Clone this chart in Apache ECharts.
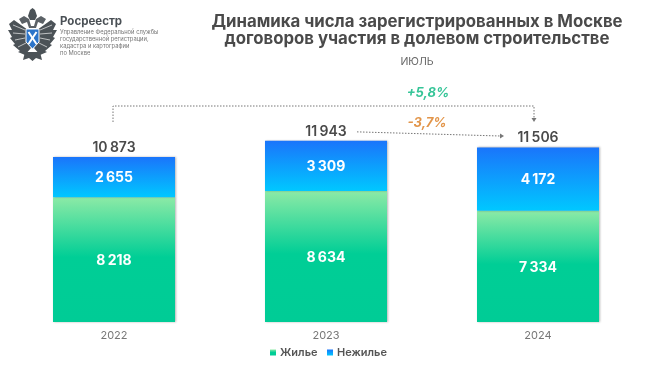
<!DOCTYPE html>
<html><head><meta charset="utf-8">
<style>html,body{margin:0;padding:0;background:#fff}#c{width:650px;height:365px}</style>
<script src="https://cdn.jsdelivr.net/npm/echarts@6/dist/echarts.min.js"></script>
</head><body><div id="c"></div>
<script>
const years = ['2022','2023','2024'];
const housing = [8218,8634,7334];
const nonHousing = [2655,3309,4172];
const totals = [10873,11943,11506];
const fmt = v => String(v).replace(/\B(?=(\d{3})+$)/g,'\u2009');
const FONT = 'Inter';
const chart = echarts.init(document.getElementById('c'),null,{renderer:'canvas'});
const grad = (stops)=>new echarts.graphic.LinearGradient(0,0,0,1,stops);
const barShadow = {shadowColor:'rgba(90,90,90,.45)',shadowBlur:2,shadowOffsetX:1,shadowOffsetY:0};
const innerLabel = {show:true,position:'inside',offset:[0,1],color:'#fff',fontSize:14,fontWeight:700,fontFamily:FONT,formatter:p=>fmt(p.value)};
chart.setOption({
  backgroundColor:'#fff',
  animation:false,
  textStyle:{fontFamily:FONT},
  grid:{left:8,width:636,top:140,height:182},
  legend:{
    bottom:2,left:265,itemWidth:6,itemHeight:6,itemGap:9.5,
    icon:'rect',
    data:[{name:'Жилье'},{name:'Нежилье'}],
    textStyle:{color:'#555',fontSize:11,fontWeight:600,fontFamily:FONT,padding:[0,0,0,-1]}
  },
  xAxis:{type:'category',data:years,axisLine:{show:false},axisTick:{show:false},
    axisLabel:{color:'#777',fontSize:11,margin:8,fontFamily:FONT}},
  yAxis:{type:'value',min:0,max:12000,show:false,splitLine:{show:false}},
  series:[
    {name:'Жилье',type:'bar',stack:'a',barWidth:122,data:housing,
      itemStyle:Object.assign({color:grad([{offset:0,color:'#8CEAA6'},{offset:.48,color:'#00CE96'},{offset:1,color:'#00CC96'}])},barShadow),
      label:innerLabel},
    {name:'Нежилье',type:'bar',stack:'a',data:nonHousing,
      itemStyle:Object.assign({color:grad([{offset:0,color:'#1A75FB'},{offset:1,color:'#00C8FF'}])},barShadow),
      label:innerLabel},
    {name:'Итого',type:'bar',stack:'a',data:totals.map(()=>0),
      itemStyle:{color:'transparent'},
      label:{show:true,position:'top',distance:2.5,color:'#4a4a4a',fontSize:14,fontWeight:600,fontFamily:FONT,
        formatter:p=>fmt(totals[p.dataIndex])}}
  ],
  color:['#17B58C','#2F86E0']
});

const px = (i,v)=>chart.convertToPixel({gridIndex:0},[i,v]);
const line = '#777';
const dash = {stroke:line,lineWidth:1,lineDash:[1.5,1.5]};
const p1 = px(1,totals[1]), p2 = px(2,totals[2]);
const longTop = 106, longEnd = 118, shortY0 = p1[1]-9, shortY1 = p2[1]-11.5;
const shortX0 = 357, shortX1 = 503;

const feather = (x1,y1,x2,y2)=>({type:'line',shape:{x1,y1,x2,y2},style:{stroke:'#fff',lineWidth:.8,opacity:.8}});
const eagle = {type:'group',children:[
  {type:'polygon',shape:{points:[[28,30],[14,20],[9,24],[12,30],[8,30],[12,37],[10,38],[15,44],[13,45],[20,51],[18,52],[25,55],[31,48],[28,40]]},style:{fill:'#4b5257'}},
  {type:'polygon',shape:{points:[[37,30],[51,20],[56,24],[53,30],[57,30],[53,37],[55,38],[50,44],[52,45],[45,51],[47,52],[40,55],[34,48],[37,40]]},style:{fill:'#4b5257'}},
  feather(25,30,13,25),feather(25,34,13,33),feather(25,38,15,40),feather(26,43,18,47),
  feather(40,30,52,25),feather(40,34,52,33),feather(40,38,50,40),feather(39,43,47,47),
  {type:'polygon',shape:{points:[[22,24],[19,19],[24,16],[29,19],[31,26],[34,26],[36,19],[41,16],[46,19],[43,24],[38,22],[36,28],[29,28],[27,22]]},style:{fill:'#5b6166'}},
  {type:'polygon',shape:{points:[[28,16],[30,10],[32.5,8],[35,10],[37,16],[35,20],[30,20]]},style:{fill:'#4b5257'}},
  {type:'polygon',shape:{points:[[25,52],[40,52],[42,60],[36,58],[32.5,61],[29,58],[23,60]]},style:{fill:'#4b5257'}},
  {type:'polygon',shape:{points:[[26,29],[39,29],[39,42],[32.5,49],[26,42]]},style:{fill:'#2C74C9',stroke:'#fff',lineWidth:1}},
  {type:'line',shape:{x1:28.5,y1:32,x2:36.5,y2:44},style:{stroke:'#fff',lineWidth:2}},
  {type:'line',shape:{x1:36.5,y1:32,x2:28.5,y2:44},style:{stroke:'#fff',lineWidth:2}}
]};

const tt = (x,y,text,style)=>({type:'text',x,y,style:Object.assign({text,fontFamily:FONT},style)});
const head = (x,y,dir)=> dir==='down'
  ? {type:'polygon',shape:{points:[[x-2.5,y-4],[x+2.5,y-4],[x,y]]},style:{fill:line}}
  : {type:'polygon',shape:{points:[[x-4,y-2.5],[x-4,y+2.5],[x,y]]},style:{fill:line}};

chart.setOption({graphic:{elements:[
  eagle,
  tt(60,16,'Росреестр',{fontSize:11.5,fontWeight:700,fill:'#4a5055'}),
  tt(60,29,'Управление Федеральной службы',{fontSize:5.8,fill:'#777'}),
  tt(60,36.5,'государственной регистрации,',{fontSize:5.8,fill:'#777'}),
  tt(60,43.5,'кадастра и картографии',{fontSize:5.8,fill:'#777'}),
  tt(60,50.5,'по Москве',{fontSize:5.8,fill:'#777'}),
  tt(417,13,'Динамика числа зарегистрированных в Москве',{fontSize:16.8,fontWeight:700,fill:'#4a4a4a',align:'center'}),
  tt(417,30,'договоров участия в долевом строительстве',{fontSize:16.8,fontWeight:700,fill:'#4a4a4a',align:'center'}),
  tt(417,56,'ИЮЛЬ',{fontSize:10.5,fill:'#666',align:'center'}),
  tt(428,87,'+5,8%',{fontSize:13,fontWeight:700,fontStyle:'italic',fill:'#36C598',align:'center'}),
  tt(427,117,'-3,7%',{fontSize:13,fontWeight:700,fontStyle:'italic',fill:'#E2954A',align:'center'}),
  {type:'polyline',shape:{points:[[113,122],[113,longTop],[534,longTop],[534,longEnd]]},style:Object.assign({fill:null},dash)},
  head(534,longEnd+4,'down'),
  {type:'line',shape:{x1:shortX0,y1:shortY0,x2:shortX1-3,y2:shortY1},style:dash},
  head(shortX1+1,shortY1,'right')
]}});
</script></body></html>
